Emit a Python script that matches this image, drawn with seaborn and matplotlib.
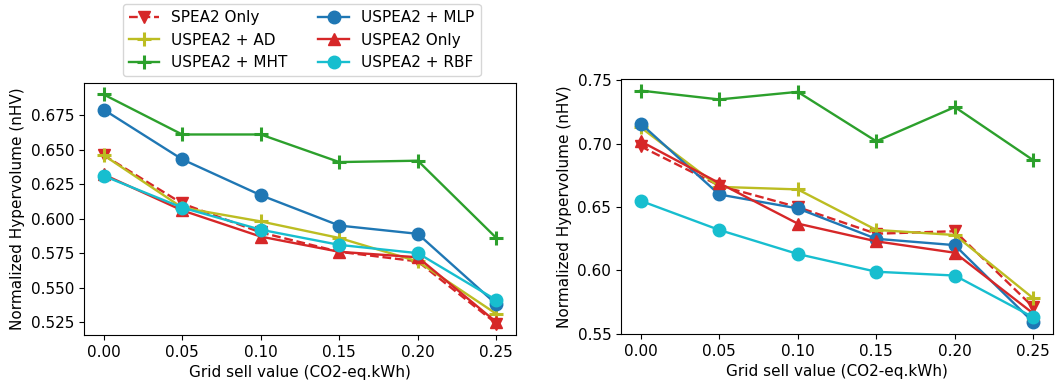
import numpy as np
import pandas as pd
import matplotlib
matplotlib.use("Agg")
import matplotlib.pyplot as plt
import seaborn as sns

plt.rcParams["font.size"] = 11

grid = [0.00, 0.05, 0.10, 0.15, 0.20, 0.25]
series_names = ["SPEA2 Only", "USPEA2 + AD", "USPEA2 + MHT", "USPEA2 + MLP", "USPEA2 Only", "USPEA2 + RBF"]

left_spea2_only = [0.646, 0.611, 0.590, 0.576, 0.569, 0.524]
left_ad = [0.646, 0.608, 0.598, 0.586, 0.569, 0.531]
left_mht = [0.690, 0.661, 0.661, 0.641, 0.642, 0.586]
left_mlp = [0.679, 0.643, 0.617, 0.595, 0.589, 0.538]
left_uspea2_only = [0.632, 0.606, 0.587, 0.576, 0.572, 0.525]
left_rbf = [0.631, 0.608, 0.592, 0.581, 0.575, 0.541]

right_spea2_only = [0.698, 0.667, 0.650, 0.629, 0.631, 0.571]
right_ad = [0.713, 0.666, 0.664, 0.632, 0.628, 0.578]
right_mht = [0.742, 0.735, 0.741, 0.702, 0.729, 0.687]
right_mlp = [0.716, 0.660, 0.649, 0.625, 0.620, 0.559]
right_uspea2_only = [0.702, 0.669, 0.637, 0.623, 0.614, 0.566]
right_rbf = [0.655, 0.632, 0.613, 0.599, 0.596, 0.563]

left_data = [left_spea2_only, left_ad, left_mht, left_mlp, left_uspea2_only, left_rbf]
right_data = [right_spea2_only, right_ad, right_mht, right_mlp, right_uspea2_only, right_rbf]

styles = {
    "SPEA2 Only": dict(color="tab:red", marker="v", linestyle="--"),
    "USPEA2 + AD": dict(color="tab:olive", marker="+", linestyle="-"),
    "USPEA2 + MHT": dict(color="tab:green", marker="+", linestyle="-"),
    "USPEA2 + MLP": dict(color="tab:blue", marker="o", linestyle="-"),
    "USPEA2 Only": dict(color="tab:red", marker="^", linestyle="-"),
    "USPEA2 + RBF": dict(color="tab:cyan", marker="o", linestyle="-"),
}

fig = plt.figure(figsize=(10.58, 3.87), dpi=100)
ax1 = fig.add_axes([84/1058, 1-335/387, (516-84)/1058, (335-83)/387])
ax2 = fig.add_axes([621/1058, 1-334/387, (1053-621)/1058, (334-79)/387])

for ax, data in [(ax1, left_data), (ax2, right_data)]:
    for name, vals in zip(series_names, data):
        st = styles[name]
        mk = st["marker"]
        if mk == "+":
            kw = dict(marker="+", markersize=10.5, markeredgewidth=2.2)
        else:
            kw = dict(marker=mk, markersize=9, markeredgewidth=1)
        sns.lineplot(x=grid, y=vals, ax=ax, color=st["color"], linestyle=st["linestyle"],
                     linewidth=1.7, label=name, legend=False,
                     markeredgecolor=st["color"], markerfacecolor=st["color"], **kw)
    ax.set_xticks(grid)
    ax.set_xticklabels([f"{g:.2f}" for g in grid])
    ax.set_xlabel("Grid sell value (CO2-eq.kWh)")
    ax.set_ylabel("Normalized Hypervolume (nHV)")

ax1.set_yticks([0.525, 0.55, 0.575, 0.6, 0.625, 0.65, 0.675])
ax1.set_yticklabels(["0.525", "0.550", "0.575", "0.600", "0.625", "0.650", "0.675"])
ax2.set_yticks([0.55, 0.6, 0.65, 0.7, 0.75])
ax2.set_yticklabels(["0.55", "0.60", "0.65", "0.70", "0.75"])

handles, labels = ax1.get_legend_handles_labels()
fig.legend(handles, labels, ncol=2, loc="upper center", bbox_to_anchor=(0.285, 1.01),
           fontsize=11, columnspacing=2.0)

fig.savefig("out.png", dpi=100)
